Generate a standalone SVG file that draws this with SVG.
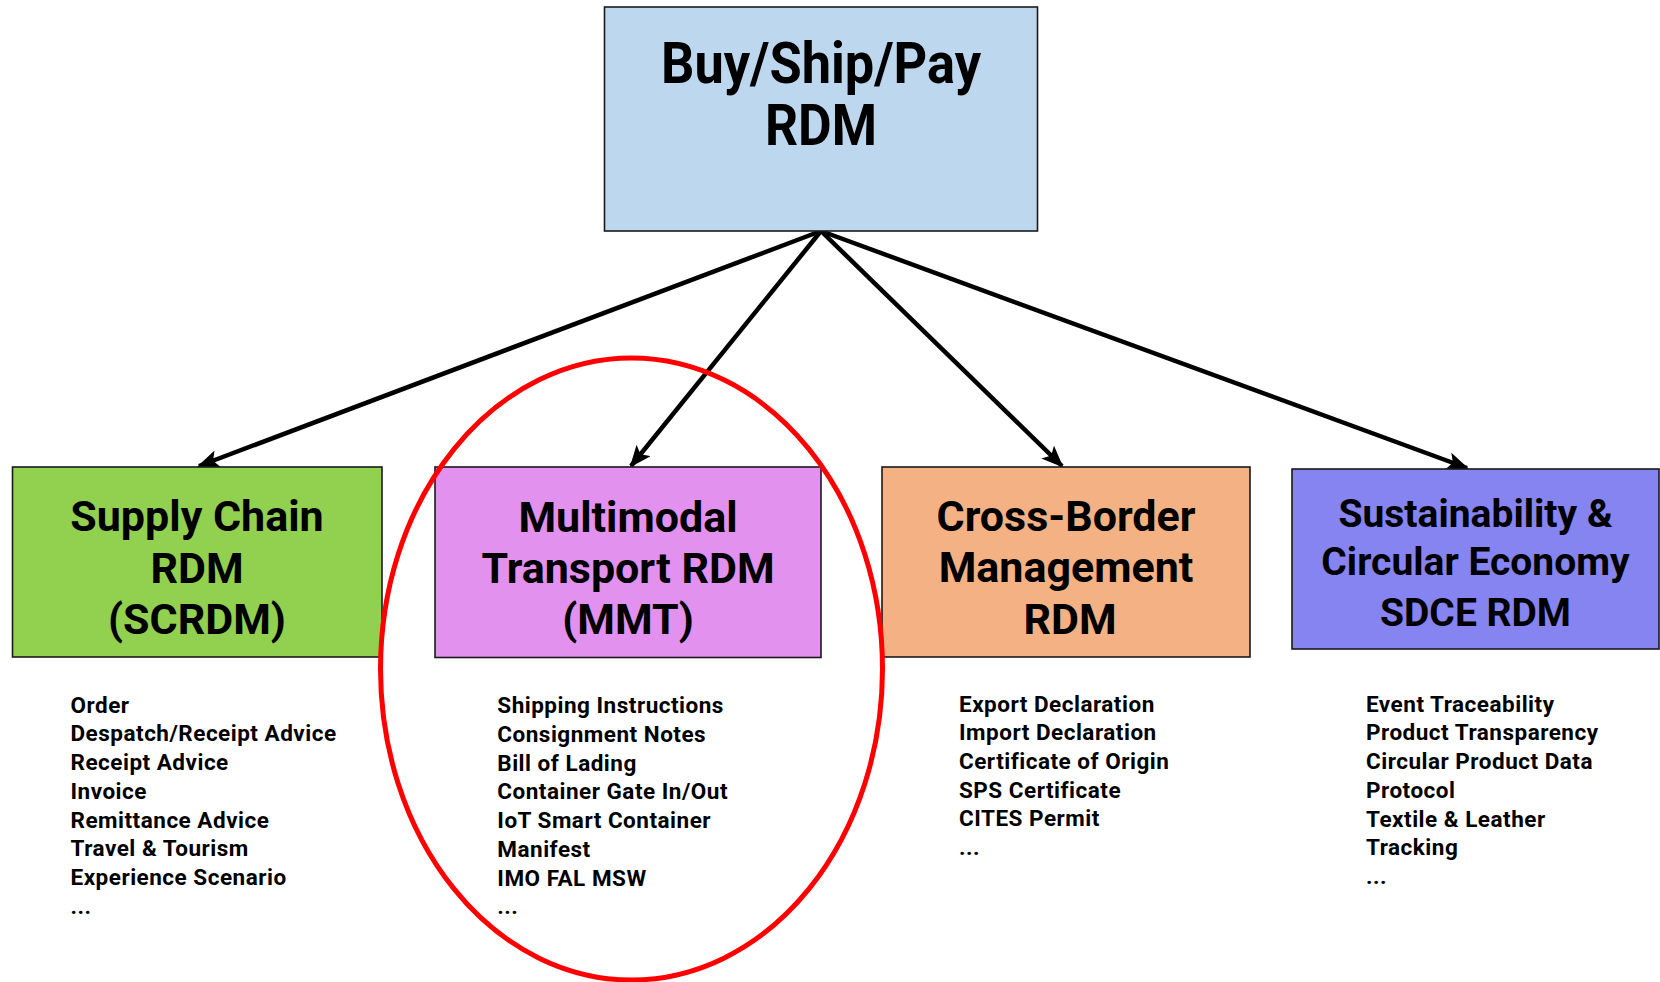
<svg xmlns="http://www.w3.org/2000/svg" width="1660" height="982" viewBox="0 0 1660 982">
<style>
.box{stroke:#1a1a1a;stroke-width:1.6}
.t1{font-family:Roboto,"Liberation Sans",sans-serif;font-weight:bold;font-size:58px;fill:#000;text-anchor:middle}
.t2{font-family:Roboto,"Liberation Sans",sans-serif;font-weight:bold;font-size:43px;fill:#000;text-anchor:middle}
.t3{font-family:Roboto,"Liberation Sans",sans-serif;font-weight:bold;font-size:39px;fill:#000;text-anchor:middle}
.li{font-family:Roboto,"Liberation Sans",sans-serif;font-weight:bold;font-size:22.5px;letter-spacing:0.5px;fill:#000}
.con{stroke:#000;stroke-width:4.5;fill:none}
</style>
<defs>
<marker id="arr" markerUnits="userSpaceOnUse" markerWidth="22" markerHeight="18" viewBox="0 0 22 18" refX="20" refY="9" orient="auto">
<path d="M0,0 L22,9 L0,18 L5,9 z" fill="#000"/>
</marker>
</defs>
<rect width="1660" height="982" fill="#fff"/>
<g id="connectors">
<line class="con" x1="821" y1="231" x2="199" y2="466" marker-end="url(#arr)"/>
<line class="con" x1="821" y1="231" x2="631" y2="466" marker-end="url(#arr)"/>
<line class="con" x1="821" y1="231" x2="1062" y2="466" marker-end="url(#arr)"/>
<line class="con" x1="821" y1="231" x2="1467" y2="468" marker-end="url(#arr)"/>
</g>
<g id="buyshippay">
<rect class="box" x="604.5" y="7" width="433" height="224" fill="#BDD7EE"/>
<text class="t1" x="821" y="83" textLength="320" lengthAdjust="spacingAndGlyphs">Buy/Ship/Pay</text>
<text class="t1" x="821" y="145" textLength="112" lengthAdjust="spacingAndGlyphs">RDM</text>
</g>
<g id="scrdm">
<rect class="box" x="12.5" y="467" width="369.5" height="190" fill="#92D050"/>
<text class="t2" x="197" y="531">Supply Chain</text>
<text class="t2" x="197" y="583">RDM</text>
<text class="t2" x="197" y="634">(SCRDM)</text>
</g>
<g id="mmt">
<rect class="box" x="435" y="467" width="386" height="190.5" fill="#E391EF"/>
<text class="t2" x="628" y="531.5">Multimodal</text>
<text class="t2" x="628" y="583">Transport RDM</text>
<text class="t2" x="628" y="634">(MMT)</text>
</g>
<g id="cbm">
<rect class="box" x="882" y="467" width="368" height="190" fill="#F4B183"/>
<text class="t2" x="1066" y="531">Cross-Border</text>
<text class="t2" x="1066" y="582">Management</text>
<text class="t2" x="1070" y="634">RDM</text>
</g>
<g id="sdce">
<rect class="box" x="1292" y="469" width="367" height="180" fill="#8584F1"/>
<text class="t3" x="1475.5" y="527">Sustainability &amp;</text>
<text class="t3" x="1475.5" y="575">Circular Economy</text>
<text class="t3" x="1475.5" y="626">SDCE RDM</text>
</g>
<g id="list-scrdm">
<text class="li" x="70.5" y="712.7">Order</text>
<text class="li" x="70.5" y="741.4">Despatch/Receipt Advice</text>
<text class="li" x="70.5" y="770.1">Receipt Advice</text>
<text class="li" x="70.5" y="798.8">Invoice</text>
<text class="li" x="70.5" y="827.5">Remittance Advice</text>
<text class="li" x="70.5" y="856.2">Travel &amp; Tourism</text>
<text class="li" x="70.5" y="884.9">Experience Scenario</text>
<text class="li" x="70.5" y="913.6">...</text>
</g>
<g id="list-mmt">
<text class="li" x="497.3" y="713.3">Shipping Instructions</text>
<text class="li" x="497.3" y="742">Consignment Notes</text>
<text class="li" x="497.3" y="770.7">Bill of Lading</text>
<text class="li" x="497.3" y="799.4">Container Gate In/Out</text>
<text class="li" x="497.3" y="828.1">IoT Smart Container</text>
<text class="li" x="497.3" y="856.8">Manifest</text>
<text class="li" x="497.3" y="885.5">IMO FAL MSW</text>
<text class="li" x="497.3" y="914.2">...</text>
</g>
<g id="list-cbm">
<text class="li" x="959" y="711.7">Export Declaration</text>
<text class="li" x="959" y="740.3">Import Declaration</text>
<text class="li" x="959" y="768.9">Certificate of Origin</text>
<text class="li" x="959" y="797.5">SPS Certificate</text>
<text class="li" x="959" y="826.1">CITES Permit</text>
<text class="li" x="959" y="854.7">...</text>
</g>
<g id="list-sdce">
<text class="li" x="1366" y="711.7">Event Traceability</text>
<text class="li" x="1366" y="740.4">Product Transparency</text>
<text class="li" x="1366" y="769.1">Circular Product Data</text>
<text class="li" x="1366" y="797.8">Protocol</text>
<text class="li" x="1366" y="826.5">Textile &amp; Leather</text>
<text class="li" x="1366" y="855.2">Tracking</text>
<text class="li" x="1366" y="883.9">...</text>
</g>
<g id="highlight">
<ellipse cx="631.5" cy="669" rx="251" ry="311" fill="none" stroke="#FF0000" stroke-width="5"/>
</g>
</svg>
